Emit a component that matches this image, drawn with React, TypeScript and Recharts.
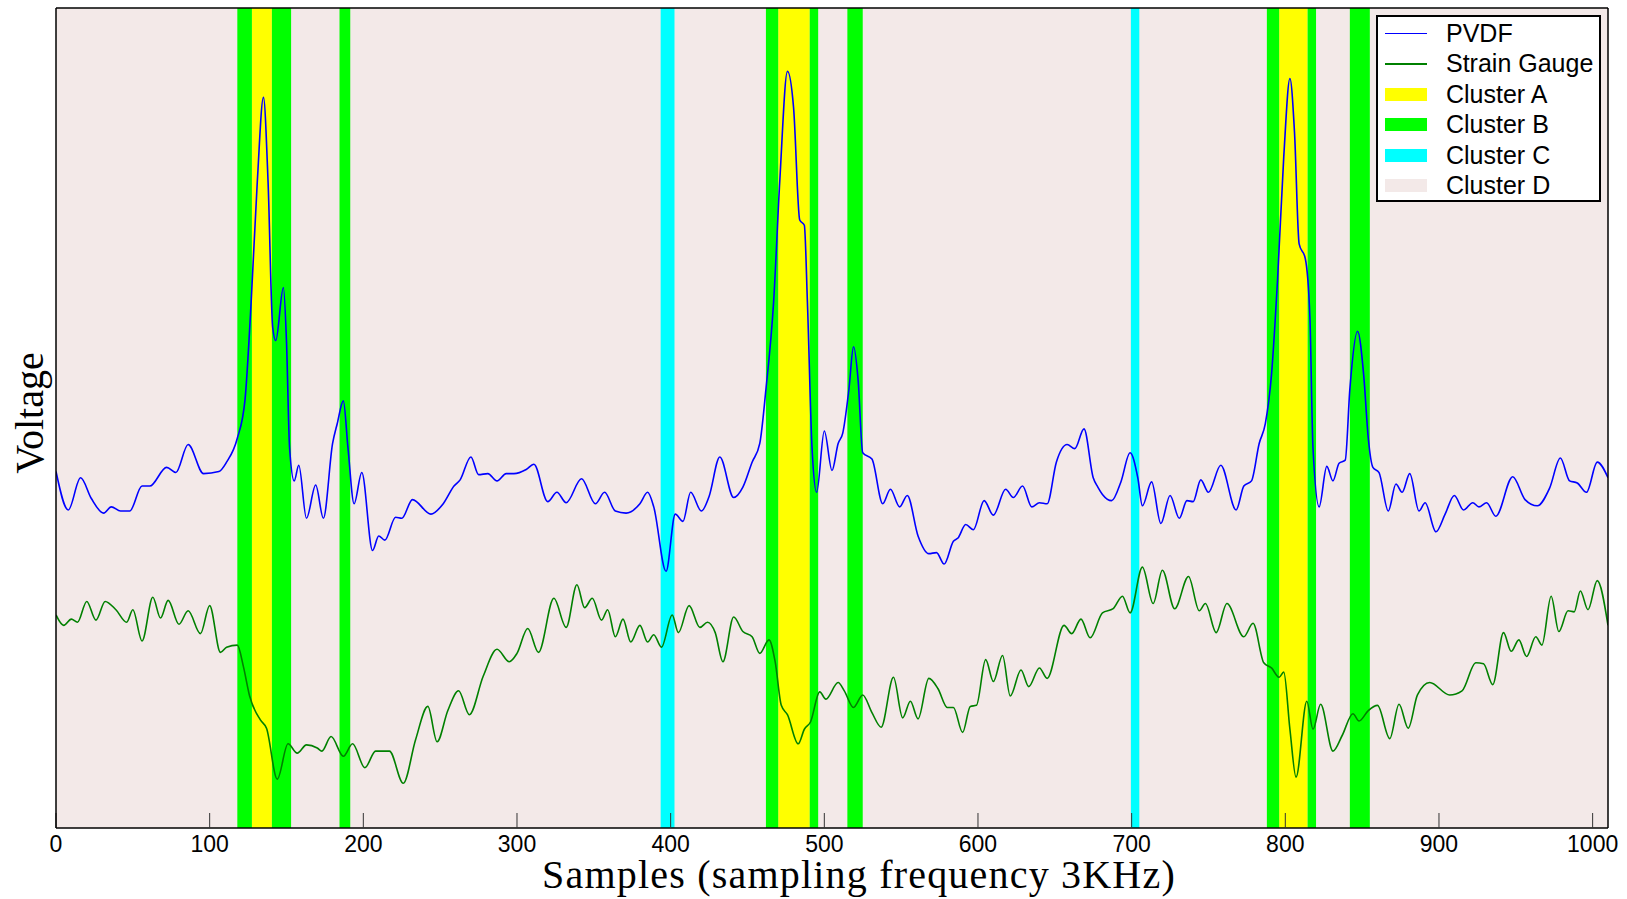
import React from 'react';
import {
  LineChart,
  Line,
  XAxis,
  YAxis,
  CartesianGrid,
  ReferenceArea,
  Legend,
} from 'recharts';

// x ticks every 100 samples
const xTicks = [0, 100, 200, 300, 400, 500, 600, 700, 800, 900, 1000];

// PVDF trace (voltage in arbitrary units)
const pvdfSamples = [
  0, 8, 16, 23, 31, 36, 42, 48, 56, 61, 72, 78, 86, 96, 106, 111, 118, 123, 127, 131,
  135, 138, 141, 143, 148, 150, 152, 155, 158, 163, 169, 174, 180, 183, 187, 190, 194, 199, 206, 210,
  214, 221, 225, 232, 244, 252, 259, 263, 270, 275, 281, 287, 293, 298, 306, 311, 320, 326, 332, 342,
  351, 357, 364, 371, 380, 385, 389, 397, 403, 408, 413, 420, 425, 432, 441, 447, 453, 458, 462, 467,
  471, 476, 480, 484, 487, 489, 492, 495, 500, 505, 509, 512, 516, 519, 522, 525, 531, 538, 543, 549,
  554, 561, 568, 573, 578, 584, 587, 592, 597, 604, 610, 618, 623, 629, 635, 640, 645, 651, 658, 663,
  669, 675, 678, 681, 687, 693, 699, 704, 707, 713, 719, 725, 731, 736, 740, 745, 750, 758, 768, 773,
  778, 783, 787, 791, 795, 799, 803, 806, 809, 813, 816, 818, 822, 827, 831, 835, 839, 842, 847, 851,
  854, 857, 861, 867, 872, 876, 881, 887, 891, 898, 904, 910, 916, 922, 926, 931, 937, 948, 956, 964,
  972, 979, 985, 990, 996, 1003, 1010,
];
const pvdfVoltage = [
  343, 306, 337, 317, 303, 309, 305, 305, 329, 329, 347, 342, 369, 341, 343, 352, 375, 412, 506, 622,
  703, 622, 482, 469, 520, 468, 366, 334, 349, 298, 330, 298, 370, 389, 411, 366, 312, 342, 267, 281,
  277, 299, 298, 316, 302, 312, 329, 335, 357, 340, 341, 334, 341, 341, 345, 350, 314, 323, 313, 336,
  312, 323, 305, 303, 312, 323, 309, 247, 302, 295, 323, 305, 319, 357, 318, 328, 352, 370, 422, 506,
  622, 728, 693, 585, 580, 506, 366, 323, 382, 344, 370, 380, 422, 463, 431, 361, 355, 312, 326, 309,
  320, 281, 264, 265, 254, 276, 279, 292, 287, 315, 301, 326, 318, 329, 309, 313, 312, 352, 369, 365,
  384, 337, 328, 321, 315, 333, 361, 337, 310, 333, 293, 320, 298, 315, 314, 335, 323, 349, 306, 329,
  334, 370, 389, 436, 529, 646, 721, 669, 562, 548, 492, 366, 309, 348, 334, 351, 354, 422, 478, 436,
  375, 347, 342, 305, 331, 323, 341, 305, 313, 285, 302, 320, 306, 313, 309, 313, 300, 338, 316, 310,
  327, 356, 334, 332, 323, 352, 337,
];

// Strain gauge trace
const strainSamples = [
  0, 5, 10, 14, 20, 26, 32, 39, 46, 50, 56, 63, 68, 73, 80, 86, 94, 100, 107, 111,
  118, 122, 126, 133, 137, 144, 151, 157, 163, 170, 173, 179, 187, 193, 201, 208, 217, 226, 234, 242,
  248, 255, 262, 269, 278, 287, 295, 300, 307, 314, 324, 332, 339, 344, 349, 355, 359, 364, 369, 374,
  380, 385, 389, 394, 401, 405, 412, 419, 424, 429, 434, 441, 447, 453, 458, 464, 468, 472, 476, 483,
  487, 491, 497, 501, 509, 513, 519, 525, 531, 537, 545, 551, 556, 561, 568, 574, 580, 584, 590, 595,
  599, 605, 610, 616, 621, 628, 633, 640, 645, 656, 661, 667, 673, 681, 688, 694, 699, 707, 714, 720,
  728, 737, 744, 748, 755, 762, 773, 779, 786, 791, 796, 799, 803, 807, 814, 818, 823, 831, 837, 844,
  848, 854, 860, 868, 874, 880, 886, 894, 907, 915, 924, 929, 935, 942, 947, 952, 957, 963, 967, 973,
  978, 984, 988, 992, 997, 1003, 1010,
];
const strainVoltage = [
  205, 195, 201, 198, 218, 200, 218, 210, 198, 210, 180, 222, 202, 219, 196, 209, 187, 214, 169, 174,
  176, 155, 127, 104, 96, 47, 81, 72, 80, 77, 74, 88, 69, 81, 58, 74, 74, 43, 85, 117,
  83, 113, 132, 109, 146, 172, 160, 168, 192, 169, 221, 193, 234, 212, 221, 200, 210, 184, 201, 179,
  195, 179, 186, 174, 205, 188, 214, 193, 198, 188, 160, 203, 189, 184, 168, 181, 160, 118, 109, 81,
  95, 102, 131, 124, 140, 132, 116, 128, 111, 97, 145, 106, 122, 105, 144, 134, 116, 116, 92, 117,
  118, 162, 141, 166, 127, 152, 136, 154, 144, 195, 187, 201, 183, 207, 211, 223, 207, 251, 216, 248,
  211, 242, 209, 216, 188, 216, 184, 197, 159, 154, 145, 150, 95, 49, 122, 95, 119, 74, 89, 110,
  103, 113, 118, 86, 119, 96, 128, 140, 128, 132, 159, 158, 138, 188, 170, 181, 165, 184, 176, 223,
  189, 209, 208, 228, 210, 238, 195,
];

// cluster bands as [start, end] sample ranges
const clusterA = [[127.5, 140.5], [470, 490.5], [796, 814.5]];
const clusterB = [
  [118, 127.5], [140.5, 153], [184.5, 191.5], [462, 470], [490.5, 496],
  [515, 525], [788, 796], [814.5, 820], [842, 855],
];
const clusterC = [[393.5, 402.5], [699.5, 705]];

const pvdfData = pvdfSamples.map((s, i) => ({ sample: s, voltage: pvdfVoltage[i] }));
const strainData = strainSamples.map((s, i) => ({ sample: s, voltage: strainVoltage[i] }));

const COLORS = {
  pvdf: '#0000ff',
  strain: '#008000',
  A: '#ffff00',
  B: '#00ff00',
  C: '#00ffff',
  D: '#f3e9e8',
};

const legendItems = [
  { label: 'PVDF', color: COLORS.pvdf, kind: 'line' },
  { label: 'Strain Gauge', color: COLORS.strain, kind: 'line' },
  { label: 'Cluster A', color: COLORS.A, kind: 'patch' },
  { label: 'Cluster B', color: COLORS.B, kind: 'patch' },
  { label: 'Cluster C', color: COLORS.C, kind: 'patch' },
  { label: 'Cluster D', color: COLORS.D, kind: 'patch' },
];

const SANS = "'Liberation Sans', Arial, Helvetica, sans-serif";
const SERIF = "'Liberation Serif', 'Times New Roman', serif";

const renderLegend = () => (
  <div
    style={{
      boxSizing: 'border-box',
      width: 225,
      height: 187,
      border: '2px solid #000',
      background: '#fff',
      paddingTop: 1,
      fontFamily: SANS,
      fontSize: 25,
      color: '#000',
    }}
  >
    {legendItems.map((item) => (
      <div key={item.label} style={{ display: 'flex', alignItems: 'center', height: 30.5 }}>
        <div
          style={{
            marginLeft: 7,
            width: 42,
            height: item.kind === 'line' ? 1.5 : 13,
            background: item.color,
          }}
        />
        <span style={{ marginLeft: 19, lineHeight: 1 }}>{item.label}</span>
      </div>
    ))}
  </div>
);

const renderXLabel = (props: any) => {
  const { x, y, width } = props.viewBox;
  return (
    <text
      x={x + width / 2 + 27}
      y={y + 60}
      textAnchor="middle"
      fontFamily={SERIF}
      fontSize={40}
      letterSpacing={1.2}
      fill="#000"
    >
      Samples (sampling frequency 3KHz)
    </text>
  );
};

const renderYLabel = (props: any) => {
  const { x, y, width, height } = props.viewBox;
  const cx = x + width - 13;
  const cy = y + height / 2 - 5;
  return (
    <text
      x={cx}
      y={cy}
      textAnchor="middle"
      transform={`rotate(-90, ${cx}, ${cy})`}
      fontFamily={SERIF}
      fontSize={40}
      fill="#000"
    >
      Voltage
    </text>
  );
};

const bands = (ranges: number[][], color: string, key: string) =>
  ranges.map(([x1, x2], i) => (
    <ReferenceArea
      key={`${key}-${i}`}
      x1={x1}
      x2={x2}
      fill={color}
      fillOpacity={1}
      stroke="none"
      ifOverflow="hidden"
    />
  ));

export default function App() {
  return (
    <div style={{ position: 'absolute', left: 0, top: 0, width: 1627, height: 899, background: '#fff' }}>
      <LineChart width={1627} height={899} margin={{ top: 0, right: 0, bottom: 0, left: 0 }}>
        <CartesianGrid horizontal={false} vertical={false} fill={COLORS.D} stroke="none" />
        {bands(clusterA, COLORS.A, 'a')}
        {bands(clusterB, COLORS.B, 'b')}
        {bands(clusterC, COLORS.C, 'c')}
        <XAxis
          xAxisId={0}
          dataKey="sample"
          type="number"
          domain={[0, 1010]}
          ticks={xTicks}
          height={71}
          tickSize={-15}
          tickMargin={23}
          axisLine={{ stroke: '#000', strokeWidth: 1.5 }}
          tickLine={{ stroke: '#333', strokeWidth: 1 }}
          tick={{ fill: '#000', fontSize: 23, fontFamily: SANS }}
          allowDataOverflow
          label={renderXLabel}
        />
        <XAxis
          xAxisId="top"
          orientation="top"
          dataKey="sample"
          type="number"
          domain={[0, 1010]}
          ticks={xTicks}
          height={8}
          tickSize={-15}
          axisLine={{ stroke: '#000', strokeWidth: 1.5 }}
          tickLine={{ stroke: '#333', strokeWidth: 1 }}
          tick={false}
          allowDataOverflow
        />
        <YAxis
          yAxisId={0}
          type="number"
          domain={[0, 789]}
          width={56}
          tick={false}
          tickLine={false}
          axisLine={{ stroke: '#000', strokeWidth: 1.5 }}
          allowDataOverflow
          label={renderYLabel}
        />
        <YAxis
          yAxisId="right"
          orientation="right"
          type="number"
          domain={[0, 789]}
          width={19}
          tick={false}
          tickLine={false}
          axisLine={{ stroke: '#000', strokeWidth: 1.5 }}
        />
        <Line
          data={pvdfData}
          dataKey="voltage"
          name="PVDF"
          type="monotone"
          stroke={COLORS.pvdf}
          strokeWidth={1.6}
          dot={false}
          activeDot={false}
          isAnimationActive={false}
        />
        <Line
          data={strainData}
          dataKey="voltage"
          name="Strain Gauge"
          type="monotone"
          stroke={COLORS.strain}
          strokeWidth={1.6}
          dot={false}
          activeDot={false}
          isAnimationActive={false}
        />
        <Legend
          layout="vertical"
          align="center"
          verticalAlign="middle"
          content={renderLegend}
          wrapperStyle={{ left: 1376, top: 15, width: 225, height: 187 }}
        />
      </LineChart>
    </div>
  );
}
